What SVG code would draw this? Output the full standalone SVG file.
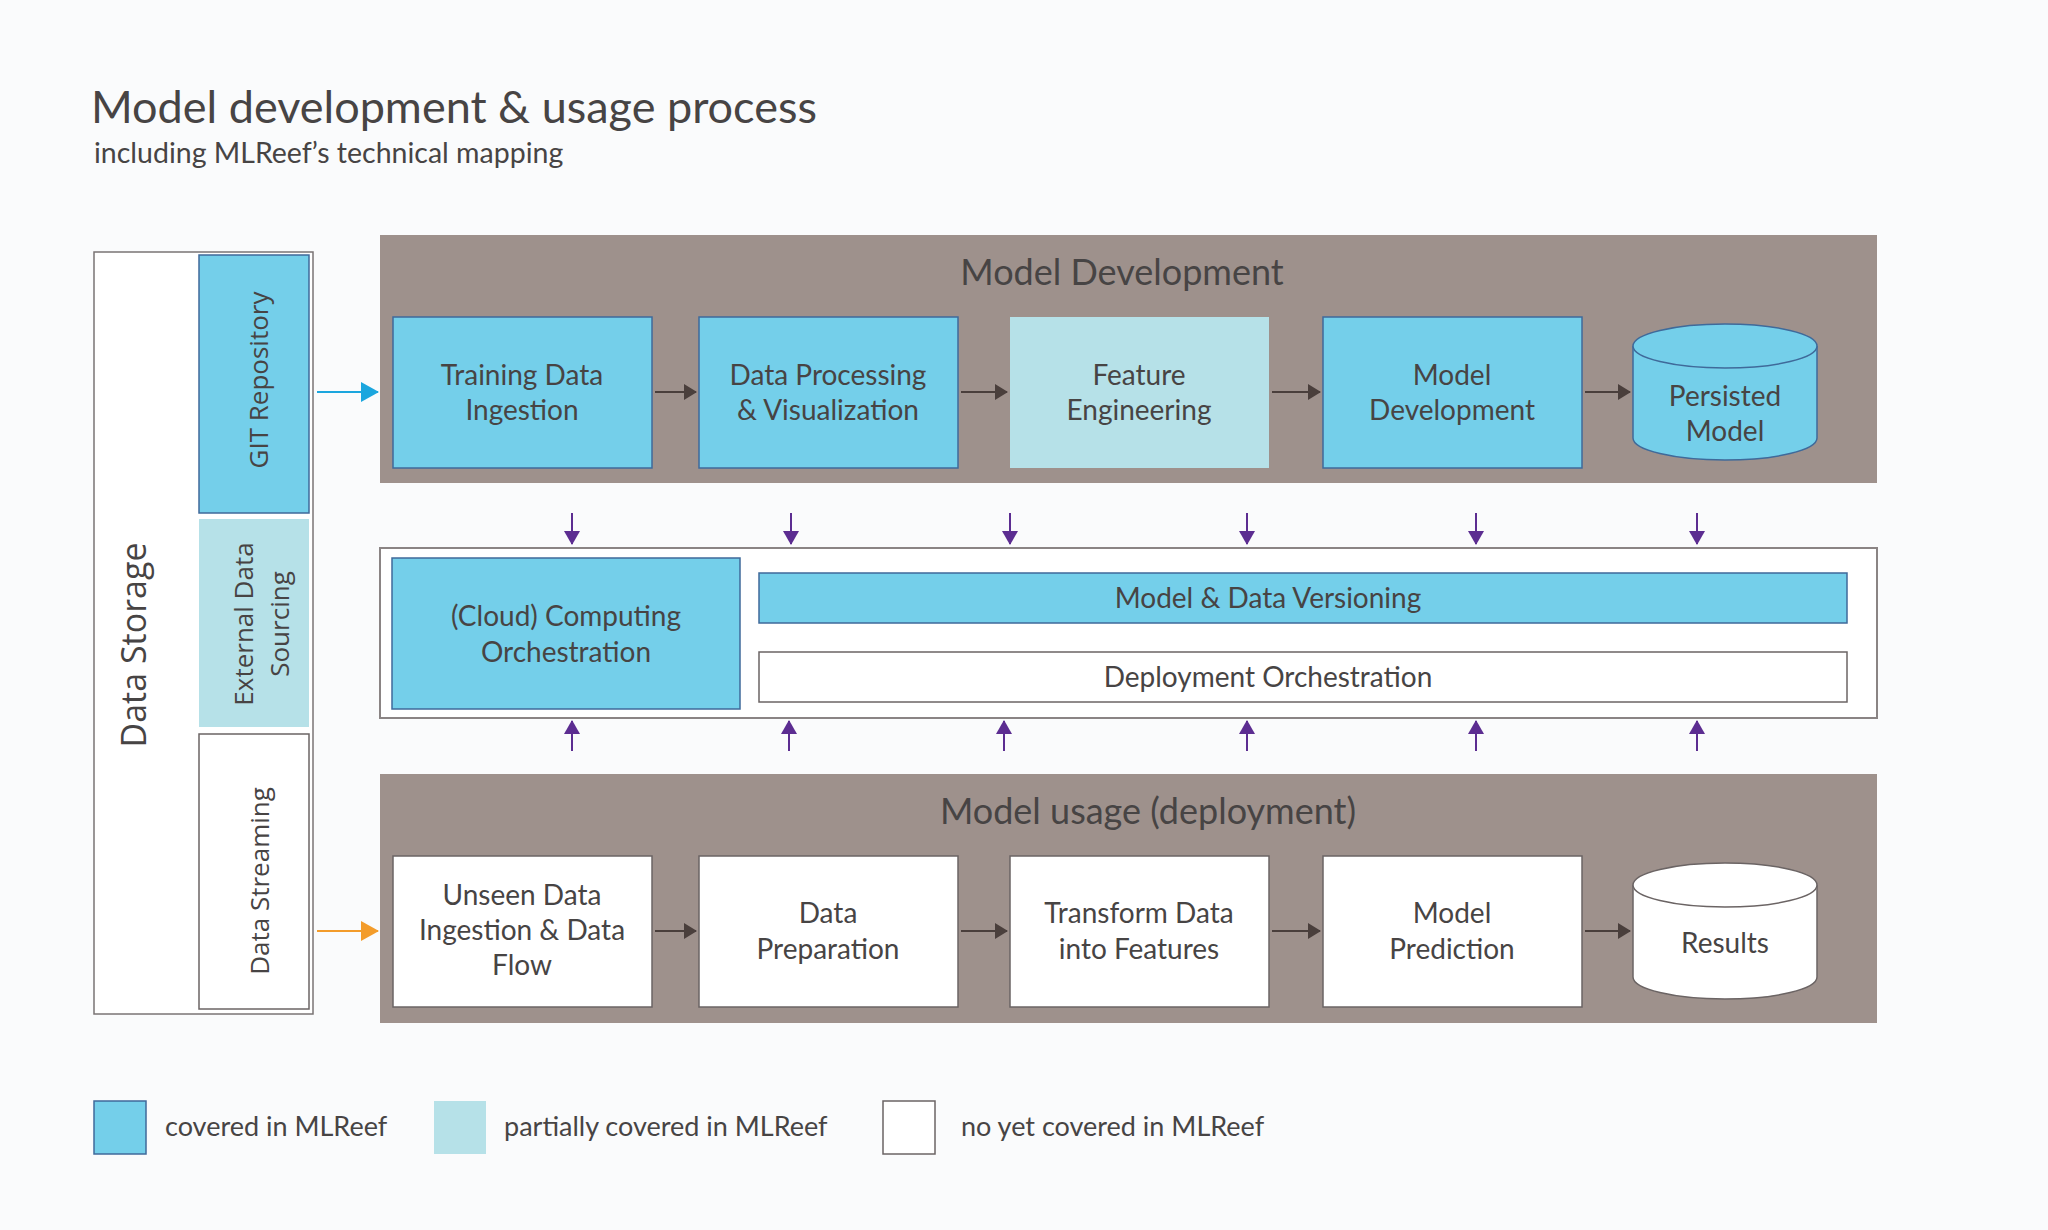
<svg xmlns="http://www.w3.org/2000/svg" width="2048" height="1230" viewBox="0 0 2048 1230">
<defs>
<style>
.t{font-family:Lato,"Open Sans","Liberation Sans",sans-serif;fill:#474444;}
.v{font-family:"Open Sans","Noto Sans","Liberation Sans",sans-serif;fill:#474444;}
.bx{font-size:28px;text-anchor:middle;}
.blue{fill:#74cfea;stroke:#3f6a9a;stroke-width:1.5;}
.lblue{fill:#b6e1e8;}
.white{fill:#ffffff;stroke:#6b6464;stroke-width:1.5;}
.panel{fill:#9e918c;}
.flow{stroke:#4a3f3c;stroke-width:2;fill:none;marker-end:url(#ad);}
.pd{stroke:#5c2d91;stroke-width:2;fill:none;marker-end:url(#ap);}
</style>
<marker id="ad" markerWidth="13" markerHeight="16" refX="12" refY="8" orient="auto" markerUnits="userSpaceOnUse"><path d="M0,0 L13,8 L0,16 Z" fill="#4a3f3c"/></marker>
<marker id="ap" markerWidth="14" markerHeight="18" refX="13" refY="9" orient="auto" markerUnits="userSpaceOnUse"><path d="M0,1 L14,9 L0,17 Z" fill="#5c2d91"/></marker>
<marker id="ab" markerWidth="18" markerHeight="20" refX="17" refY="10" orient="auto" markerUnits="userSpaceOnUse"><path d="M0,0 L18,10 L0,20 Z" fill="#1ba6de"/></marker>
<marker id="ao" markerWidth="18" markerHeight="20" refX="17" refY="10" orient="auto" markerUnits="userSpaceOnUse"><path d="M0,0 L18,10 L0,20 Z" fill="#f39c2b"/></marker>
</defs>
<rect width="2048" height="1230" fill="#fafbfc"/>

<g id="title">
<text class="t" x="91" y="123" font-size="45">Model development &amp; usage process</text>
<text class="t" x="94" y="163" font-size="28.5">including MLReef’s technical mapping</text>
</g>

<g id="data-storage">
<rect x="94" y="252" width="219" height="762" fill="#ffffff" stroke="#7a7474" stroke-width="1.5"/>
<text class="v" transform="translate(146,645) rotate(-90)" font-size="34" text-anchor="middle">Data Storage</text>
</g>
<g id="git-repository">
<rect class="blue" x="199" y="255" width="110" height="258"/>
<text class="v" transform="translate(268,380) rotate(-90)" font-size="26" text-anchor="middle">GIT Repository</text>
</g>
<g id="external-data-sourcing">
<rect class="lblue" x="199" y="519" width="110" height="208"/>
<text class="v" transform="translate(253,624) rotate(-90)" font-size="26" text-anchor="middle">External Data</text>
<text class="v" transform="translate(289,624) rotate(-90)" font-size="26" text-anchor="middle">Sourcing</text>
</g>
<g id="data-streaming">
<rect class="white" x="199" y="734" width="110" height="275"/>
<text class="v" transform="translate(269,881) rotate(-90)" font-size="26" text-anchor="middle">Data Streaming</text>
</g>

<g id="model-development-panel">
<rect class="panel" x="380" y="235" width="1497" height="248"/>
<text class="t" x="1122" y="285" font-size="36" text-anchor="middle">Model Development</text>
</g>
<g id="training-data-ingestion">
<rect class="blue" x="393" y="317" width="259" height="151"/>
<text class="t bx" x="522" y="385">Training Data</text>
<text class="t bx" x="522" y="420">Ingestion</text>
</g>
<g id="data-processing">
<rect class="blue" x="699" y="317" width="259" height="151"/>
<text class="t bx" x="828" y="385">Data Processing</text>
<text class="t bx" x="828" y="420">&amp; Visualization</text>
</g>
<g id="feature-engineering">
<rect class="lblue" x="1010" y="317" width="259" height="151"/>
<text class="t bx" x="1139" y="385">Feature</text>
<text class="t bx" x="1139" y="420">Engineering</text>
</g>
<g id="model-development">
<rect class="blue" x="1323" y="317" width="259" height="151"/>
<text class="t bx" x="1452" y="385">Model</text>
<text class="t bx" x="1452" y="420">Development</text>
</g>
<g id="persisted-model">
<path d="M1633,346 L1633,438 A92,22 0 0 0 1817,438 L1817,346" fill="#74cfea" stroke="#3f6a9a" stroke-width="1.5"/>
<ellipse cx="1725" cy="346" rx="92" ry="22" fill="#74cfea" stroke="#3f6a9a" stroke-width="1.5"/>
<text class="t bx" x="1725" y="406">Persisted</text>
<text class="t bx" x="1725" y="441">Model</text>
</g>

<g id="middle-layer">
<rect x="380" y="548" width="1497" height="170" fill="#ffffff" stroke="#8a8484" stroke-width="2"/>
</g>
<g id="cloud-computing">
<rect class="blue" x="392" y="558" width="348" height="151"/>
<text class="t bx" x="566" y="626">(Cloud) Computing</text>
<text class="t bx" x="566" y="662">Orchestration</text>
</g>
<g id="model-data-versioning">
<rect class="blue" x="759" y="573" width="1088" height="50"/>
<text class="t bx" x="1268" y="608">Model &amp; Data Versioning</text>
</g>
<g id="deployment-orchestration">
<rect class="white" x="759" y="652" width="1088" height="50"/>
<text class="t bx" x="1268" y="687">Deployment Orchestration</text>
</g>

<g id="model-usage-panel">
<rect class="panel" x="380" y="774" width="1497" height="249"/>
<text class="t" x="1148" y="824" font-size="36" text-anchor="middle">Model usage (deployment)</text>
</g>
<g id="unseen-data-ingestion">
<rect class="white" x="393" y="856" width="259" height="151"/>
<text class="t bx" x="522" y="905">Unseen Data</text>
<text class="t bx" x="522" y="940">Ingestion &amp; Data</text>
<text class="t bx" x="522" y="975">Flow</text>
</g>
<g id="data-preparation">
<rect class="white" x="699" y="856" width="259" height="151"/>
<text class="t bx" x="828" y="923">Data</text>
<text class="t bx" x="828" y="959">Preparation</text>
</g>
<g id="transform-data">
<rect class="white" x="1010" y="856" width="259" height="151"/>
<text class="t bx" x="1139" y="923">Transform Data</text>
<text class="t bx" x="1139" y="959">into Features</text>
</g>
<g id="model-prediction">
<rect class="white" x="1323" y="856" width="259" height="151"/>
<text class="t bx" x="1452" y="923">Model</text>
<text class="t bx" x="1452" y="959">Prediction</text>
</g>
<g id="results">
<path d="M1633,885 L1633,977 A92,22 0 0 0 1817,977 L1817,885" fill="#ffffff" stroke="#6b6464" stroke-width="1.5"/>
<ellipse cx="1725" cy="885" rx="92" ry="22" fill="#ffffff" stroke="#6b6464" stroke-width="1.5"/>
<text class="t bx" x="1725" y="953">Results</text>
</g>

<g id="connectors">
<line x1="317" y1="392" x2="378" y2="392" stroke="#1ba6de" stroke-width="2" marker-end="url(#ab)"/>
<line x1="317" y1="931" x2="378" y2="931" stroke="#f39c2b" stroke-width="2" marker-end="url(#ao)"/>
<line class="flow" x1="655" y1="392" x2="696" y2="392"/>
<line class="flow" x1="961" y1="392" x2="1007" y2="392"/>
<line class="flow" x1="1272" y1="392" x2="1320" y2="392"/>
<line class="flow" x1="1585" y1="392" x2="1630" y2="392"/>
<line class="flow" x1="655" y1="931" x2="696" y2="931"/>
<line class="flow" x1="961" y1="931" x2="1007" y2="931"/>
<line class="flow" x1="1272" y1="931" x2="1320" y2="931"/>
<line class="flow" x1="1585" y1="931" x2="1630" y2="931"/>
<line class="pd" x1="572" y1="513" x2="572" y2="544"/>
<line class="pd" x1="791" y1="513" x2="791" y2="544"/>
<line class="pd" x1="1010" y1="513" x2="1010" y2="544"/>
<line class="pd" x1="1247" y1="513" x2="1247" y2="544"/>
<line class="pd" x1="1476" y1="513" x2="1476" y2="544"/>
<line class="pd" x1="1697" y1="513" x2="1697" y2="544"/>
<line class="pd" x1="572" y1="751" x2="572" y2="721"/>
<line class="pd" x1="789" y1="751" x2="789" y2="721"/>
<line class="pd" x1="1004" y1="751" x2="1004" y2="721"/>
<line class="pd" x1="1247" y1="751" x2="1247" y2="721"/>
<line class="pd" x1="1476" y1="751" x2="1476" y2="721"/>
<line class="pd" x1="1697" y1="751" x2="1697" y2="721"/>
</g>

<g id="legend">
<rect class="blue" x="94" y="1101" width="52" height="53"/>
<text class="t" x="165" y="1136" font-size="27">covered in MLReef</text>
<rect class="lblue" x="434" y="1101" width="52" height="53"/>
<text class="t" x="504" y="1136" font-size="27">partially covered in MLReef</text>
<rect class="white" x="883" y="1101" width="52" height="53"/>
<text class="t" x="961" y="1136" font-size="27">no yet covered in MLReef</text>
</g>
</svg>
